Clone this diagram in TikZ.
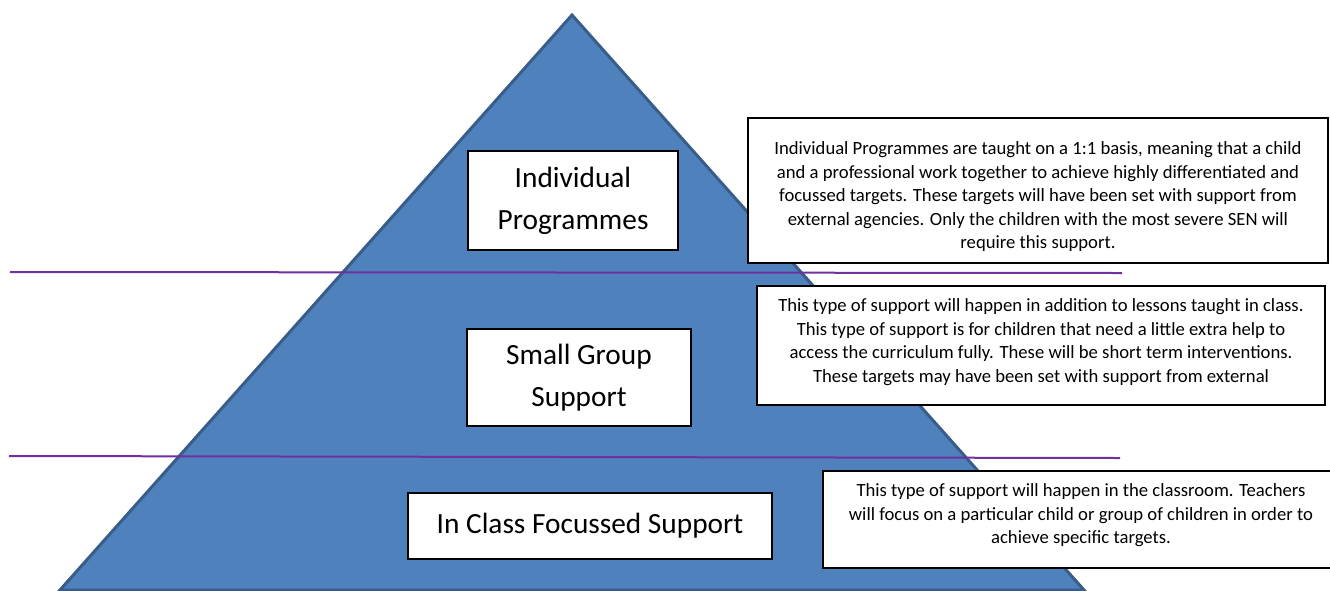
\documentclass[tikz,border=0pt]{standalone}
\usepackage{xcolor}
\usepackage{fontspec}
\setmainfont{Carlito}
\definecolor{pyrfill}{HTML}{4F81BD}
\definecolor{pyredge}{HTML}{385D8A}
\definecolor{divider}{HTML}{7030A0}
\usepackage{tikz}
\usetikzlibrary{positioning}
\tikzstyle{pyramid} = [fill=pyrfill, draw=pyredge, line width=2.25pt]
\tikzstyle{level} = [rectangle, draw, fill=white, line width=1.1pt,
    align=center, inner sep=0pt, font=\fontsize{22}{31.5}\selectfont]
\tikzstyle{note} = [rectangle, draw, fill=white, line width=1.1pt,
    inner sep=0pt, font=\fontsize{14}{17.6}\selectfont]
\tikzstyle{line} = [draw=divider, line width=1.5pt]
% width, height, top gap, text
\newcommand{\notepar}[4]{\parbox[c][#2][t]{#1}{\centering\vspace*{#3}#4}}

\begin{document}
\begin{tikzpicture}[x=0.75pt,y=-0.75pt]
    \useasboundingbox (0,0) rectangle (1330,590);
    % Pyramid
    \draw [pyramid] (572,15) -- (1084,590) -- (60,590) -- cycle;

    % Dividing lines
    \path [line] (10,272) -- (1122,273);
    \path [line] (9,456) -- (1120,458);

    % Place nodes
    \node [level, minimum width=157.5pt, minimum height=74.25pt] (indiv) at (573,200.5) {Individual\\Programmes};
    \node [level, minimum width=168pt, minimum height=72.75pt] (group) at (579,377.5) {Small Group\\Support};
    \node [level, minimum width=273pt, minimum height=49.5pt] (class) at (590,526) {In Class Focussed Support};

    \node [note] (indivnote) at (1038,190.5) {\notepar{435pt}{108.75pt}{18pt}{%
        Individual Programmes are taught on a 1:1 basis, meaning that a child\\
        and a professional work together to achieve highly differentiated and\\
        focussed targets. These targets will have been set with support from\\
        external agencies. Only the children with the most severe SEN will\\
        require this support.}};
    \node [note] (groupnote) at (1041,345.5) {\notepar{426pt}{89.25pt}{9.75pt}{%
        This type of support will happen in addition to lessons taught in class.\\
        This type of support is for children that need a little extra help to\\
        access the curriculum fully. These will be short term interventions.\\
        These targets may have been set with support from external}};
    \node [note] (classnote) at (1081,519.5) {\notepar{387pt}{72.75pt}{9.75pt}{%
        This type of support will happen in the classroom. Teachers\\
        will focus on a particular child or group of children in order to\\
        achieve specific targets.}};
\end{tikzpicture}
\end{document}
